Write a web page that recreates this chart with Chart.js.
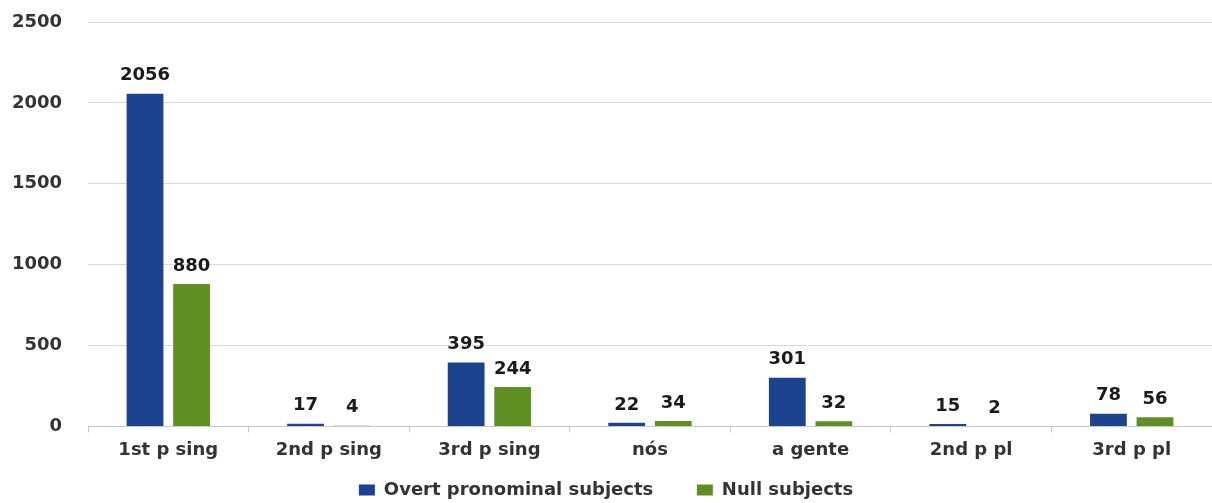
<!DOCTYPE html>
<html>
<head>
<meta charset="utf-8">
<script src="https://cdn.jsdelivr.net/npm/chart.js@4.4.1/dist/chart.umd.min.js"></script>
<style>
  html, body { margin: 0; padding: 0; background: #fff; }
  #wrap { width: 1212px; height: 503px; position: relative; }
</style>
</head>
<body>
<div id="wrap"><canvas id="subjectsChart"></canvas></div>
<script>
const categories = ["1st p sing", "2nd p sing", "3rd p sing", "nós", "a gente", "2nd p pl", "3rd p pl"];
const overtSubjects = [2056, 17, 395, 22, 301, 15, 78];
const nullSubjects = [880, 4, 244, 34, 32, 2, 56];
const yTicks = [0, 500, 1000, 1500, 2000, 2500];

const FONT = "'DejaVu Sans', Verdana, sans-serif";

// draws the count above each bar
const barValueLabels = {
  id: "barValueLabels",
  afterDatasetsDraw(chart) {
    const { ctx } = chart;
    ctx.save();
    ctx.font = "bold 18px " + FONT;
    ctx.fillStyle = "#1a1a1a";
    ctx.textAlign = "center";
    ctx.textBaseline = "bottom";
    chart.data.datasets.forEach((ds, i) => {
      chart.getDatasetMeta(i).data.forEach((bar, j) => {
        ctx.fillText(ds.data[j], bar.x, bar.y - 9);
      });
    });
    ctx.restore();
  }
};

new Chart(document.getElementById("subjectsChart").getContext("2d"), {
  type: "bar",
  data: {
    labels: categories,
    datasets: [
      { label: "Overt pronominal subjects", data: overtSubjects, backgroundColor: "#1b438f",
        categoryPercentage: 0.58, barPercentage: 0.79 },
      { label: "Null subjects", data: nullSubjects, backgroundColor: "#5f8f22",
        categoryPercentage: 0.58, barPercentage: 0.79 }
    ]
  },
  options: {
    responsive: true,
    maintainAspectRatio: false,
    animation: false,
    layout: { padding: { top: 22, right: 0, left: 0, bottom: -6 } },
    plugins: {
      tooltip: { enabled: false },
      legend: {
        position: "bottom",
        labels: {
          boxWidth: 16, boxHeight: 11, padding: 6,
          color: "#333", font: { family: FONT, size: 18, weight: "bold" },
          // wider gap between the two entries
          generateLabels: chart => Chart.defaults.plugins.legend.labels.generateLabels(chart)
            .map((item, i) => i === 0 ? { ...item, text: item.text + "      " } : item)
        }
      }
    },
    scales: {
      x: {
        afterFit: scale => { scale.height += 7; },
        grid: { display: true, drawOnChartArea: false, color: "#c8c8c8", tickLength: 6, offset: true },
        border: { color: "#c8c8c8" },
        ticks: { color: "#333", padding: 7, font: { family: FONT, size: 18, weight: "bold" } }
      },
      y: {
        min: 0, max: 2500,
        afterBuildTicks: scale => { scale.ticks = yTicks.map(v => ({ value: v })); },
        // fixed axis width; label padding shouldn't push the plot area in
        afterFit: scale => { scale.width = 88; scale.paddingTop = 0; scale.paddingBottom = 0; },
        grid: { color: "#d9d9d9", drawTicks: false },
        border: { display: false },
        ticks: { color: "#333", padding: 26, callback: v => String(v),
                 font: { family: FONT, size: 18, weight: "bold" } }
      }
    }
  },
  plugins: [barValueLabels]
});
</script>
</body>
</html>
